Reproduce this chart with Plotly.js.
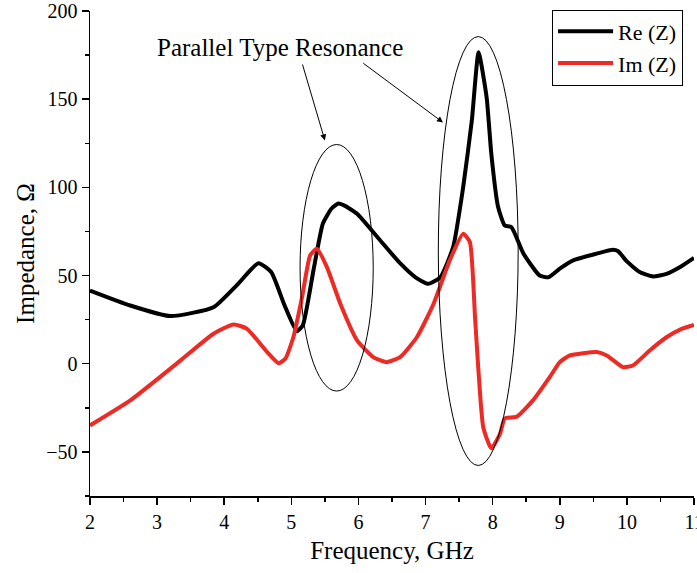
<!DOCTYPE html>
<html><head><meta charset="utf-8">
<script src="https://cdn.plot.ly/plotly-3.0.1.min.js"></script>
<style>html,body{margin:0;padding:0;background:#fff}#chart{width:697px;height:573px}</style>
</head><body><div id="chart"></div>
<script>
const reX = [2.0, 2.6, 3.2, 3.84, 4.2, 4.51, 4.7, 4.9, 5.08, 5.17, 5.33, 5.47, 5.6, 5.70, 5.8, 5.98, 6.3, 6.62, 6.85, 7.04, 7.22, 7.41, 7.56, 7.69, 7.79, 7.91, 7.98, 8.08, 8.18, 8.28, 8.46, 8.70, 8.83, 9.00, 9.2, 9.55, 9.79, 9.87, 10.0, 10.19, 10.39, 10.59, 10.8, 11.0];
const reY = [41.5, 33, 27, 32, 45, 57, 52, 33, 18.5, 21.7, 53, 79.5, 88, 90.8, 89.5, 85, 71, 57, 49, 45.3, 49, 66, 100, 138, 176.6, 151, 119, 89, 78.4, 77.4, 62.4, 50, 49, 53.9, 58.6, 62.4, 64.6, 63.8, 58, 52, 49.5, 51, 55, 60];
const imX = [2.0, 2.6, 3.35, 3.84, 4.14, 4.34, 4.64, 4.81, 4.91, 5.03, 5.16, 5.28, 5.38, 5.53, 5.73, 5.98, 6.22, 6.42, 6.62, 6.87, 7.12, 7.36, 7.56, 7.66, 7.74, 7.86, 7.98, 8.11, 8.18, 8.36, 8.6, 8.85, 9.0, 9.15, 9.55, 9.70, 9.94, 10.09, 10.34, 10.59, 10.8, 11.0];
const imY = [-35, -20.8, 1.9, 17, 22.3, 19.8, 6.6, 0.3, 2.8, 15, 37.8, 61.4, 65.2, 54.8, 34, 13.2, 3.7, 0.9, 3.7, 15, 34, 58.6, 73.7, 69, 24.5, -36, -48, -39.7, -31, -30, -20.8, -7.6, 0.9, 4.7, 6.6, 4.7, -1.9, -1, 7.5, 15, 19.5, 22];
const seriesNames = ["Re (Z)", "Im (Z)"];
const xTitle = "Frequency, GHz";
const yTitle = "Impedance, \u03A9";
const noteText = "Parallel Type Resonance";

const F = "Liberation Serif, Times New Roman, serif";
const traces = [
  {x: reX, y: reY, name: seriesNames[0], mode: "lines", line: {color: "#000000", width: 4, shape: "spline", smoothing: 0.5}},
  {x: imX, y: imY, name: seriesNames[1], mode: "lines", line: {color: "#ee2a24", width: 4, shape: "spline", smoothing: 0.5}}
];
const axisCommon = {showgrid: false, zeroline: false, showline: true, linecolor: "#000", linewidth: 1.5,
  ticks: "outside", tickcolor: "#000", tickwidth: 1.5, ticklen: 7, ticklabeloverflow: "allow",
  tickfont: {family: F, size: 20, color: "#000"}};
const layout = {
  width: 697, height: 573,
  margin: {l: 89.5, r: 3, t: 10.7, b: 77},
  paper_bgcolor: "#fff", plot_bgcolor: "#fff",
  font: {family: F, color: "#000"},
  xaxis: Object.assign({}, axisCommon, {range: [2, 11], dtick: 1, tick0: 2,
    minor: {dtick: 0.5, ticks: "outside", ticklen: 4, tickcolor: "#000", tickwidth: 1.5},
    title: {text: xTitle, font: {family: F, size: 25, color: "#000"}, standoff: 10}}),
  yaxis: Object.assign({}, axisCommon, {range: [-75, 200], dtick: 50, tick0: 0,
    minor: {dtick: 25, ticks: "outside", ticklen: 4, tickcolor: "#000", tickwidth: 1.5},
    title: {text: yTitle, font: {family: F, size: 25, color: "#000"}, standoff: 4}}),
  showlegend: true,
  legend: {x: 0.765, y: 1.003, xanchor: "left", yanchor: "top", bgcolor: "#fff", bordercolor: "#000", borderwidth: 1,
    font: {family: F, size: 22, color: "#000"}, tracegroupgap: 0, itemwidth: 55},
  shapes: [
    {type: "circle", xref: "x", yref: "y", x0: 5.13, x1: 6.22, y0: -15.5, y1: 124.3, line: {color: "#000", width: 1}},
    {type: "circle", xref: "x", yref: "y", x0: 7.19, x1: 8.38, y0: -57.7, y1: 185.5, line: {color: "#000", width: 1}}
  ],
  annotations: [
    {x: 4.83, y: 179.3, xref: "x", yref: "y", text: noteText, showarrow: false, font: {family: F, size: 25, color: "#000"}},
    {x: 5.50, y: 126.6, xref: "x", yref: "y", ax: 5.16, ay: 170.5, axref: "x", ayref: "y", text: "", showarrow: true, arrowhead: 2, arrowsize: 1.2, arrowwidth: 1, arrowcolor: "#000"},
    {x: 7.26, y: 136.8, xref: "x", yref: "y", ax: 6.05, ay: 171, axref: "x", ayref: "y", text: "", showarrow: true, arrowhead: 2, arrowsize: 1.2, arrowwidth: 1, arrowcolor: "#000"}
  ]
};
Plotly.newPlot("chart", traces, layout, {displayModeBar: false, staticPlot: true});
</script></body></html>
